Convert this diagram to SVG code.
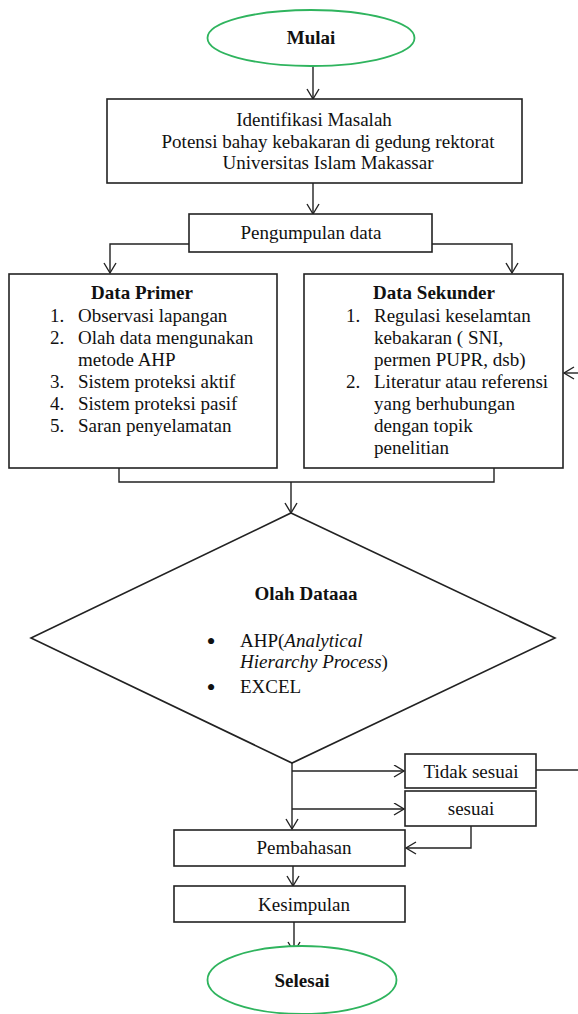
<svg xmlns="http://www.w3.org/2000/svg" width="578" height="1014" viewBox="0 0 578 1014">
<style>
text{font-family:"Liberation Serif","Times New Roman",serif;font-size:19px;fill:#111}
.b{font-weight:bold}
.c{text-anchor:middle}
.i{font-style:italic}
.bl{font-size:26px}
.box{fill:#fff;stroke:#222;stroke-width:1.6}
.term{fill:#fff;stroke:#2fb45e;stroke-width:1.8}
.ln{fill:none;stroke:#222;stroke-width:1.4}
.ar{fill:none;stroke:#222;stroke-width:1.4;marker-end:url(#ah)}
</style>
<defs>
<marker id="ah" markerUnits="userSpaceOnUse" markerWidth="14" markerHeight="14" refX="11" refY="6.5" orient="auto">
<path d="M1,0.5 L11,6.5 L1,12.5" fill="none" stroke="#222" stroke-width="1.4"/>
</marker>
</defs>
<rect width="578" height="1014" fill="#fff"/>
<g id="connectors">
<line class="ar" x1="313" y1="66" x2="313" y2="99"/>
<line class="ar" x1="313" y1="183" x2="313" y2="214"/>
<polyline class="ar" points="189,244 110,244 110,273"/>
<polyline class="ar" points="432,244 512,244 512,273"/>
<polyline class="ln" points="119,468 119,482 494,482 494,468"/>
<line class="ar" x1="291" y1="482" x2="291" y2="513"/>
<line class="ar" x1="578" y1="373" x2="564" y2="373"/>
<line class="ar" x1="292" y1="763" x2="292" y2="829"/>
<line class="ar" x1="292" y1="771" x2="404" y2="771"/>
<line class="ar" x1="292" y1="809" x2="404" y2="809"/>
<line class="ln" x1="536" y1="770" x2="578" y2="770"/>
<polyline class="ar" points="471,826 471,848 406,848"/>
<line class="ar" x1="293" y1="866" x2="293" y2="886"/>
<line class="ar" x1="294" y1="922" x2="294" y2="952"/>
</g>
<g id="mulai">
<ellipse class="term" cx="311" cy="38" rx="103.5" ry="28"/>
<text class="b c" x="311" y="44">Mulai</text>
</g>
<g id="identifikasi">
<rect class="box" x="107" y="99" width="415" height="84"/>
<text class="c" x="314" y="126">Identifikasi Masalah</text>
<text class="c" x="328" y="148">Potensi bahay kebakaran di gedung rektorat</text>
<text class="c" x="328" y="169">Universitas Islam Makassar</text>
</g>
<g id="pengumpulan">
<rect class="box" x="189" y="214" width="243" height="38"/>
<text class="c" x="311" y="239">Pengumpulan data</text>
</g>
<g id="primer">
<rect class="box" x="9" y="274" width="268" height="194"/>
<text class="b c" x="142" y="299">Data Primer</text>
<text x="50" y="322">1.</text><text x="78" y="322">Observasi lapangan</text>
<text x="50" y="344">2.</text><text x="78" y="344">Olah data mengunakan</text>
<text x="78" y="366">metode AHP</text>
<text x="50" y="388">3.</text><text x="78" y="388">Sistem proteksi aktif</text>
<text x="50" y="410">4.</text><text x="78" y="410">Sistem proteksi pasif</text>
<text x="50" y="432">5.</text><text x="78" y="432">Saran penyelamatan</text>
</g>
<g id="sekunder">
<rect class="box" x="304" y="274" width="259" height="194"/>
<text class="b c" x="434" y="299">Data Sekunder</text>
<text x="346" y="322">1.</text><text x="374" y="322">Regulasi keselamtan</text>
<text x="374" y="344">kebakaran ( SNI,</text>
<text x="374" y="366">permen PUPR, dsb)</text>
<text x="346" y="388">2.</text><text x="374" y="388">Literatur atau referensi</text>
<text x="374" y="410">yang berhubungan</text>
<text x="374" y="432">dengan topik</text>
<text x="374" y="454">penelitian</text>
</g>
<g id="olahdata">
<polygon class="box" points="291,513 555,638 292,763 31,638"/>
<text class="b c" x="306" y="600">Olah Dataaa</text>
<text class="c bl" x="211" y="650">•</text>
<text x="240" y="647">AHP(<tspan class="i">Analytical</tspan></text>
<text x="240" y="668"><tspan class="i">Hierarchy Process</tspan>)</text>
<text class="c bl" x="211" y="696">•</text>
<text x="240" y="693">EXCEL</text>
</g>
<g id="tidaksesuai">
<rect class="box" x="405" y="754" width="131" height="34"/>
<text class="c" x="471" y="778">Tidak sesuai</text>
</g>
<g id="sesuai">
<rect class="box" x="405" y="791" width="131" height="35"/>
<text class="c" x="471" y="815">sesuai</text>
</g>
<g id="pembahasan">
<rect class="box" x="174" y="830" width="231" height="36"/>
<text class="c" x="304" y="854">Pembahasan</text>
</g>
<g id="kesimpulan">
<rect class="box" x="174" y="886" width="231" height="36"/>
<text class="c" x="304" y="911">Kesimpulan</text>
</g>
<g id="selesai">
<ellipse class="term" cx="302" cy="980" rx="94.5" ry="34"/>
<text class="b c" x="302" y="987">Selesai</text>
</g>
</svg>
